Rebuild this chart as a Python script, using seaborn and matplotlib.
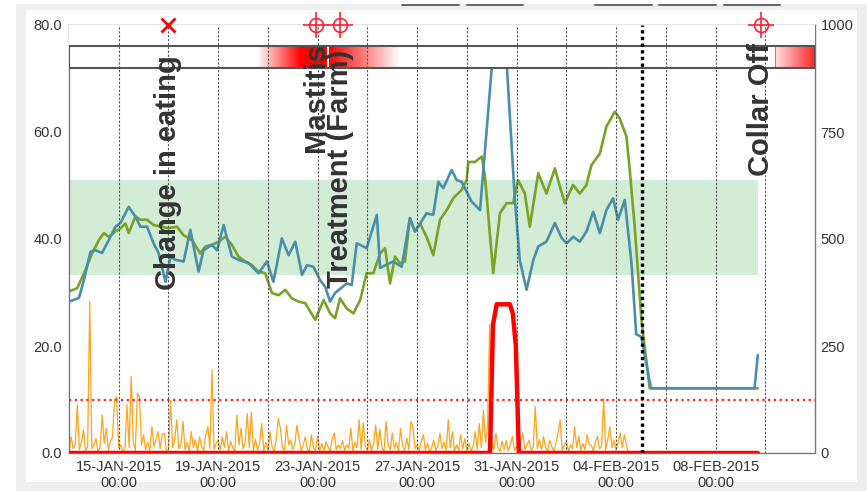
import numpy as np
import pandas as pd
import matplotlib
matplotlib.use("Agg")
import matplotlib.pyplot as plt
import matplotlib.dates as mdates
import seaborn as sns
from matplotlib.colors import LinearSegmentedColormap
from matplotlib.patches import Rectangle

# ---- data (days after 13-JAN-2015 00:00) ----
start = pd.Timestamp("2015-01-13")

blue_days = [0.0, 0.4, 0.6, 0.86, 1.06, 1.33, 1.6, 1.87, 2.07, 2.4, 2.67, 2.87, 3.14, 3.4, 3.6,
             3.88, 4.08, 4.28, 4.61, 4.88, 5.21, 5.41, 5.75, 5.95, 6.22, 6.55, 6.82, 7.22, 7.62,
             7.96, 8.22, 8.56, 8.83, 9.1, 9.37, 9.57, 9.83, 10.1, 10.3, 10.5, 10.7, 11.17, 11.37,
             11.57, 11.97, 12.38, 12.51, 13.04, 13.38, 13.71, 13.91, 14.38, 14.65, 14.85, 15.05,
             15.39, 15.59, 15.79, 16.19, 16.53, 16.73, 17.0, 17.3, 17.6, 17.93, 18.13, 18.4,
             18.67, 18.87, 19.2, 19.54, 19.81, 20.01, 20.28, 20.54, 20.81, 21.08, 21.35, 21.61,
             21.88, 22.08, 22.35, 22.62, 22.81, 23.02, 23.4, 24.5, 25.5, 26.5, 27.57, 27.7]
blue_vals = [28.3, 29.0, 32.3, 37.6, 37.9, 37.4, 39.8, 42.3, 43.0, 46.0, 44.2, 42.3, 42.3, 39.2, 37.4,
             32.0, 36.7, 36.1, 35.8, 41.7, 33.9, 37.9, 38.9, 37.9, 42.6, 36.7, 36.1, 35.5, 33.6,
             35.8, 32.0, 40.1, 37.0, 39.5, 33.3, 35.1, 34.8, 32.3, 31.1, 28.3, 29.9, 31.7, 31.4,
             39.2, 38.3, 44.5, 34.6, 35.8, 34.8, 43.9, 41.4, 44.8, 44.5, 50.7, 49.5,
             52.9, 51.0, 50.7, 47.0, 45.4, 56.6, 72.0, 90.0, 73.0, 47.3, 36.0, 30.5,
             36.0, 38.6, 39.5, 43.0, 40.2, 39.2, 40.4, 39.5, 41.4, 45.1, 41.1, 45.4,
             47.6, 43.6, 47.3, 35.5, 22.2, 21.7, 12.1, 12.1, 12.1, 12.1, 12.1, 18.3]

green_days = [0.0, 0.33, 0.66, 0.93, 1.2, 1.4, 1.6, 1.87, 2.07, 2.27, 2.4, 2.67, 2.87, 3.14, 3.4,
              3.74, 4.0, 4.34, 4.61, 4.95, 5.28, 5.48, 5.75, 6.02, 6.28, 6.55, 6.82, 7.09, 7.36,
              7.62, 7.89, 8.16, 8.43, 8.7, 8.96, 9.23, 9.5, 9.9, 10.24, 10.5, 10.7, 10.9, 11.17,
              11.44, 11.71, 11.97, 12.24, 12.51, 12.71, 12.91, 13.11, 13.31, 13.51, 13.71, 13.91,
              14.12, 14.38, 14.65, 14.92, 15.19, 15.45, 15.79, 15.99, 16.06, 16.32, 16.6, 16.73,
              17.06, 17.33, 17.6, 17.86, 18.06, 18.33, 18.53, 18.87, 19.2, 19.54, 19.74, 19.94,
              20.27, 20.54, 20.8, 21.01, 21.35, 21.61, 21.95, 22.15, 22.42, 22.55, 22.75, 23.02,
              23.35, 24.5, 25.5, 26.5, 27.7]
green_vals = [30.2, 30.8, 34.2, 37.3, 39.8, 41.1, 40.4, 41.4, 42.0, 42.9, 41.1, 44.2, 43.6, 43.6, 42.6,
              42.3, 42.0, 42.3, 40.7, 39.8, 37.3, 38.6, 38.9, 39.5, 40.4, 38.9, 36.7, 35.8, 35.1,
              33.9, 33.6, 29.9, 29.5, 30.5, 28.9, 28.3, 28.0, 24.9, 28.6, 26.1, 25.2, 28.9, 27.0,
              26.1, 28.6, 33.6, 33.6, 37.3, 38.3, 31.7, 36.7, 35.5, 35.8, 43.9, 41.4,
              42.9, 40.4, 37.0, 43.6, 45.4, 47.6, 49.2, 51.0, 54.4, 54.4, 55.4, 51.6,
              33.6, 44.8, 46.7, 46.7, 51.0, 48.5, 42.3, 52.3, 48.5, 53.2, 49.8, 46.7,
              50.1, 48.5, 50.0, 53.8, 56.0, 61.0, 63.8, 62.5, 59.1, 52.9, 42.3, 24.9,
              12.1, 12.1, 12.1, 12.1, 12.1]

# activity, one value every 2 hours
activity = [0.5, 3.0, 0.8, 1.5, 9.0, 0.6, 2.0, 4.3, 0.4, 1.2, 28.3, 0.8,
            1.5, 2.7, 0.3, 1.0, 7.1, 1.8, 4.6, 0.5, 2.2, 3.0, 10.0, 10.5,
            1.0, 1.5, 0.2, 0.8, 9.0, 1.0, 14.3, 2.0, 0.5, 11.2, 10.5, 1.5,
            3.4, 0.6, 2.0, 0.5, 4.9, 1.2, 2.5, 4.0, 0.8, 3.5, 3.7, 0.5,
            0.3, 9.9, 1.0, 2.5, 6.2, 0.8, 1.5, 5.9, 0.6, 2.0, 0.4, 4.0,
            1.0, 2.5, 0.3, 3.0, 1.2, 0.5, 3.4, 4.9, 0.8, 15.5, 0.6, 1.8,
            2.4, 0.5, 3.0, 1.0, 4.0, 0.4, 2.2, 1.0, 0.3, 7.1, 1.5, 4.6,
            0.8, 2.0, 7.4, 1.0, 7.6, 0.5, 2.5, 0.6, 1.8, 5.5, 0.4, 2.0,
            0.5, 4.0, 1.2, 0.3, 2.5, 6.5, 4.6, 1.0, 0.5, 5.2, 1.5, 2.4,
            0.6, 1.8, 5.2, 2.7, 0.4, 1.5, 3.0, 0.8, 0.3, 3.4, 1.0, 0.5,
            3.1, 0.5, 1.8, 0.4, 2.1, 1.2, 0.3, 2.6, 3.7, 0.6, 1.5, 0.8,
            2.4, 0.5, 1.5, 0.8, 4.6, 0.4, 2.0, 1.0, 6.2, 0.6, 5.6, 1.2,
            0.5, 2.5, 0.4, 1.8, 5.2, 0.7, 4.4, 1.0, 0.3, 5.9, 1.5, 0.6,
            3.7, 0.8, 2.0, 0.4, 4.6, 1.2, 0.5, 2.8, 0.6, 5.9, 4.9, 0.8,
            1.5, 0.4, 2.2, 3.4, 0.6, 1.8, 0.3, 1.0, 2.4, 0.5, 1.2, 3.7,
            0.8, 2.0, 0.5, 6.2, 1.0, 4.0, 0.4, 1.5, 0.6, 3.4, 0.8, 2.7,
            0.5, 1.8, 0.4, 1.2, 4.0, 0.6, 5.5, 1.0, 8.0, 2.0, 5.0, 24.0,
            2.0, 0.5, 3.7, 1.0, 0.3, 2.2, 0.6, 2.4, 0.4, 1.5, 3.1, 0.5,
            1.2, 0.4, 2.0, 3.7, 0.6, 1.5, 2.4, 0.5, 1.0, 8.7, 0.8, 2.5,
            0.6, 3.1, 1.0, 0.4, 2.4, 1.2, 0.3, 1.8, 3.7, 6.2, 0.5, 1.5,
            2.1, 0.4, 1.5, 0.8, 4.9, 1.0, 3.1, 0.5, 1.8, 0.6, 3.4, 1.5,
            1.5, 0.4, 2.0, 3.1, 0.8, 1.2, 10.2, 0.6, 2.5, 4.9, 1.0, 2.4,
            0.5, 2.0, 3.7, 1.0, 3.4, 1.5, 0.0]

red_days = [0.0, 16.93, 17.05, 17.2, 17.73, 17.85, 17.97, 18.09, 27.7]
red_vals = [0.0, 0.0, 24.0, 27.8, 27.8, 26.0, 20.0, 0.0, 0.0]

threshold = 10.0
normal_low, normal_high, normal_end = 33.3, 51.0, 27.7
collar_removed = 23.06

# risk shading in the top strip: (from day, to day, intensity from, intensity to)
risk_spans = [(7.57, 9.3, 0.0, 1.0), (9.3, 10.38, 1.0, 1.0), (10.45, 13.3, 1.0, 0.0),
              (28.4, 30.0, 0.12, 0.85)]

events = ["Change in eating", "Mastitis", "Treatment (Farm)", "Collar Off"]
event_days = [4.0, 9.94, 10.9, 27.84]
event_markers = ["x", "oplus", "oplus", "oplus"]
event_text_top = [74.4, 76.6, 75.3, 76.6]

tick_dates = pd.date_range("2015-01-15", "2015-02-08", freq="4D")
grid_dates = pd.date_range("2015-01-15", "2015-02-10", freq="2D")


def at(days):
    return start + pd.to_timedelta(np.asarray(days), unit="D")


sns.set_style("white")
plt.rcParams["font.family"] = ["Liberation Sans", "DejaVu Sans"]

fig = plt.figure(figsize=(8.67, 4.91), dpi=100, facecolor="white")
fig.patches.append(Rectangle((16 / 867, 0), 851 / 867, 487 / 491, transform=fig.transFigure,
                             facecolor="#eeeeee", edgecolor="none", zorder=-10))
fig.patches.append(Rectangle((26 / 867, 9 / 491), 831 / 867, 472 / 491, transform=fig.transFigure,
                             facecolor="white", edgecolor="none", zorder=-9))
for x0, x1 in [(402, 459), (467, 523), (595, 652), (659, 716), (724, 780)]:
    fig.add_artist(plt.Line2D([x0 / 867, x1 / 867], [486.5 / 491] * 2, color="#666666", lw=1.4))

ax = fig.add_axes([69 / 867, 38 / 491, 746 / 867, 428 / 491])
ax.patch.set_alpha(0)

x0 = mdates.date2num(start)
ax.add_patch(Rectangle((x0, normal_low), normal_end, normal_high - normal_low,
                       facecolor="#d2ecd5", edgecolor="none", zorder=1))

sns.lineplot(x=at(np.arange(len(activity)) / 12), y=activity, ax=ax, color="#ffa31a", lw=0.9, zorder=2)
sns.lineplot(x=at(red_days), y=red_vals, ax=ax, color="#ff0000", lw=3.2, zorder=3)
sns.lineplot(x=at(green_days), y=green_vals, ax=ax, color="#79a226", lw=1.9, zorder=2.5)
sns.lineplot(x=at(blue_days), y=blue_vals, ax=ax, color="#4a8fa9", lw=1.9, zorder=2.6)
ax.axhline(threshold, color="#ff2020", lw=1.6, ls=(0, (1, 1.6)), zorder=3.5)

# top strip
ax.add_patch(Rectangle((x0, 72), 30, 8, facecolor="white", edgecolor="none", zorder=4))
cmap = LinearSegmentedColormap.from_list("risk", ["#ffffff", "#ff0000"])
for d0, d1, a0, a1 in risk_spans:
    ax.imshow(np.linspace(a0, a1, 256)[None, :], cmap=cmap, vmin=0, vmax=1, aspect="auto",
              extent=(x0 + d0, x0 + d1, 72, 76), zorder=5, interpolation="bilinear")
ax.axvline(x0 + 28.4, ymin=72 / 80, ymax=76 / 80, color="#ff6070", lw=0.8, zorder=5.5)
ax.add_patch(Rectangle((x0, 72), 30, 4, facecolor="none", edgecolor="#555555", lw=1.5, zorder=6))

for g in grid_dates:
    ax.axvline(g, color="#555555", lw=0.8, ls=(0, (2, 1.5)), zorder=7)
ax.axvline(x0 + collar_removed, color="black", lw=2.4, ls=(0, (1, 1)), zorder=7)

for name, d, mk, ty in zip(events, event_days, event_markers, event_text_top):
    xd = x0 + d
    if mk == "x":
        ax.plot(xd, 80, marker="x", color="#ff0000", ms=10, mew=2, clip_on=False, zorder=10)
    else:
        ax.plot(xd, 80, marker="o", mfc="none", mec="#ff2030", ms=10, mew=1.2, clip_on=False, zorder=10)
        ax.plot(xd, 80, marker="+", color="#ff2030", ms=19, mew=1.2, clip_on=False, zorder=10)
    ax.text(xd, ty, name, rotation=90, ha="center", va="top", fontsize=21, fontweight="bold",
            color="#333333", zorder=9)

ax.set_xlim(x0, x0 + 30)
ax.set_ylim(0, 80)
ax.set_xlabel("")
ax.set_ylabel("")
ax.set_xticks(mdates.date2num(tick_dates))
ax.set_xticklabels([d.strftime("%d-%b-%Y").upper() + "\n00:00" for d in tick_dates])
ax.set_yticks([0, 20, 40, 60, 80])
ax.set_yticklabels(["0.0", "20.0", "40.0", "60.0", "80.0"])
ax.tick_params(length=0, pad=5, labelsize=10.5, labelcolor="#333333")
for s in ax.spines.values():
    s.set_visible(True)
    s.set_color("#777777")
    s.set_linewidth(1.0)

ax2 = ax.twinx()
ax2.set_ylim(0, 1000)
ax2.set_yticks([0, 250, 500, 750, 1000])
ax2.set_yticklabels(["0", "250", "500", "750", "1000"])
ax2.tick_params(length=0, pad=4, labelsize=10.5, labelcolor="#333333")
for s in ax2.spines.values():
    s.set_visible(False)

fig.savefig("out.png", dpi=100, facecolor=fig.get_facecolor())
